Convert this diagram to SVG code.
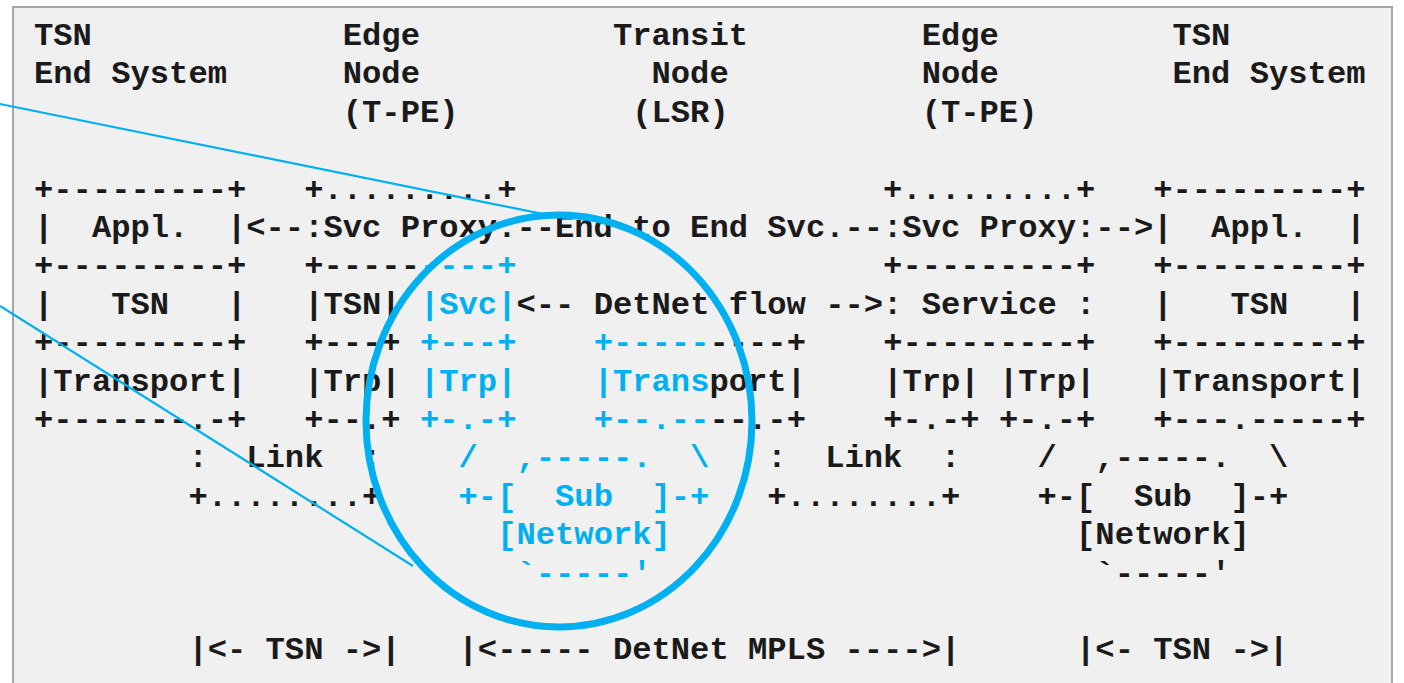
<svg xmlns="http://www.w3.org/2000/svg" width="1404" height="683" viewBox="0 0 1404 683">
<style>
text{font-family:"Liberation Mono","Courier New",monospace;font-weight:bold;font-size:32.17px;fill:#1a1a1a;white-space:pre}
.b{fill:#00b0f0}
.callout{fill:none;stroke:#00b0f0}
</style>
<rect x="0" y="0" width="1404" height="683" fill="#ffffff"/>
<rect id="frame" x="13" y="7" width="1379" height="700" fill="#f0f0f0" stroke="#a6a6a6" stroke-width="2"/>
<g id="ascii">
<text xml:space="preserve" x="34" y="45">TSN             Edge          Transit         Edge         TSN</text>
<text xml:space="preserve" x="34" y="83.4">End System      Node            Node          Node         End System</text>
<text xml:space="preserve" x="34" y="121.8">                (T-PE)         (LSR)          (T-PE)</text>
<text xml:space="preserve" x="34" y="198.6">+---------+   +.........+                   +.........+   +---------+</text>
<text xml:space="preserve" x="34" y="237">|  Appl.  |&lt;--:Svc Proxy:--End to End Svc.--:Svc Proxy:--&gt;|  Appl.  |</text>
<text xml:space="preserve" x="34" y="275.4">+---------+   +-----<tspan class="b">----+</tspan>                   +---------+   +---------+</text>
<text xml:space="preserve" x="34" y="313.8">|   TSN   |   |TSN| <tspan class="b">|Svc|</tspan>&lt;-- DetNet flow --&gt;: Service :   |   TSN   |</text>
<text xml:space="preserve" x="34" y="352.2">+---------+   +---+ <tspan class="b">+---+</tspan>    <tspan class="b">+-----</tspan>----+    +---------+   +---------+</text>
<text xml:space="preserve" x="34" y="390.6">|Transport|   |Trp| <tspan class="b">|Trp|</tspan>    <tspan class="b">|Trans</tspan>port|    |Trp| |Trp|   |Transport|</text>
<text xml:space="preserve" x="34" y="429">+-------.-+   +--.+ <tspan class="b">+-.-+</tspan>    <tspan class="b">+--.--</tspan>--.-+    +-.-+ +-.-+   +---.-----+</text>
<text xml:space="preserve" x="34" y="467.4">        :  Link  :    <tspan class="b">/  ,-----.  \</tspan>   :  Link  :    /  ,-----.  \</text>
<text xml:space="preserve" x="34" y="505.8">        +........+    <tspan class="b">+-[  Sub  ]-+</tspan>   +........+    +-[  Sub  ]-+</text>
<text xml:space="preserve" x="34" y="544.2">                        <tspan class="b">[Network]</tspan>                     [Network]</text>
<text xml:space="preserve" x="34" y="582.6">                         <tspan class="b">`-----'</tspan>                       `-----'</text>
<text xml:space="preserve" x="34" y="659.4">        |&lt;- TSN -&gt;|   |&lt;----- DetNet MPLS ----&gt;|      |&lt;- TSN -&gt;|</text>
</g>
<g id="connectors" class="callout">
<line x1="0" y1="104" x2="548" y2="215" stroke-width="2.2"/>
<line x1="0" y1="306" x2="413" y2="566" stroke-width="2.2"/>
</g>
<g id="highlight" class="callout">
<ellipse cx="559" cy="421" rx="193" ry="206" stroke-width="7"/>
</g>
</svg>
